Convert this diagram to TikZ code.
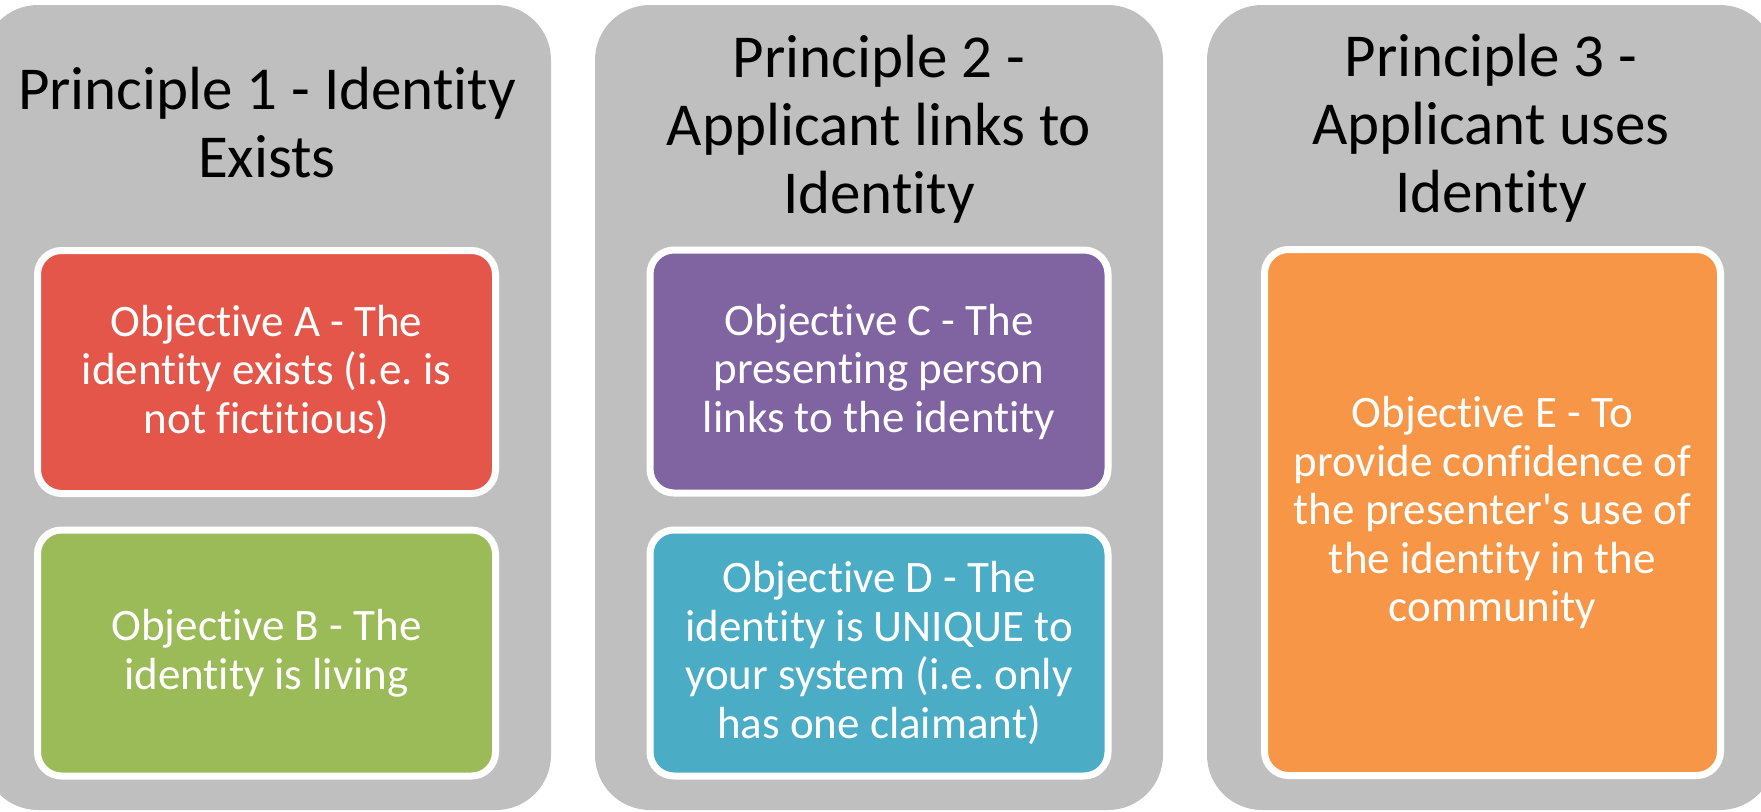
\documentclass[tikz,border=0pt]{standalone}
\usepackage{fontspec}
\setmainfont{Carlito}[Ligatures={NoCommon}]
\frenchspacing
\definecolor{panelgray}{HTML}{BFBFBF}
\definecolor{objred}{HTML}{E5564A}
\definecolor{objgreen}{HTML}{9BBB59}
\definecolor{objpurple}{HTML}{8064A2}
\definecolor{objblue}{HTML}{4BACC6}
\definecolor{objorange}{HTML}{F79646}
\newcommand\ptitlefont{\fontsize{61pt}{68pt}\selectfont}
\newcommand\pobjfont{\fontsize{45pt}{48.5pt}\selectfont}
\begin{document}
\begin{tikzpicture}[x=1pt,y=-1pt,
  panel/.style={fill=panelgray, draw=none, rounded corners=55pt,
    minimum width=568pt, minimum height=805pt, inner sep=0pt},
  ptitle/.style={anchor=base, align=center, font=\ptitlefont, text=black, inner sep=0pt},
  objbox/.style={draw=white, line width=7pt, rounded corners=24pt, text=white,
    align=center, font=\pobjfont, minimum width=458pt, inner sep=0pt}]
\useasboundingbox (0,0) rectangle (1761,811);
\clip (0,0) rectangle (1761,811);
% panels
\node[panel] (p1) at (267,407.5) {};
\node[panel] (p2) at (879,407.5) {};
\node[panel] (p3) at (1491,407.5) {};
% titles (base anchor = baseline of the last line)
\node[ptitle] (t1) at (267,177) {Principle 1 - Identity\\Exists};
\node[ptitle] (t2) at (879,213) {Principle 2 -\\Applicant links to\\Identity};
\node[ptitle] (t3) at (1491,212) {Principle 3 -\\Applicant uses\\Identity};
% objectives
\node[objbox, fill=objred, minimum height=243pt] (oa) at (266.5,372)
  {Objective A - The\\identity exists (i.e. is\\not fictitious)};
\node[objbox, fill=objgreen, minimum height=246pt] (ob) at (266.5,653)
  {Objective B - The\\identity is living};
\node[objbox, fill=objpurple, minimum height=243pt] (oc) at (879,371.5)
  {Objective C - The\\presenting person\\links to the identity};
\node[objbox, fill=objblue, minimum height=246pt] (od) at (879,653)
  {Objective D - The\\identity is UNIQUE to\\your system (i.e. only\\has one claimant)};
\node[objbox, fill=objorange, minimum width=456pt, minimum height=526pt] (oe) at (1492.5,512.5)
  {Objective E - To\\provide confidence of\\the presenter\textquotesingle s use of\\the identity in the\\community};
\end{tikzpicture}
\end{document}
